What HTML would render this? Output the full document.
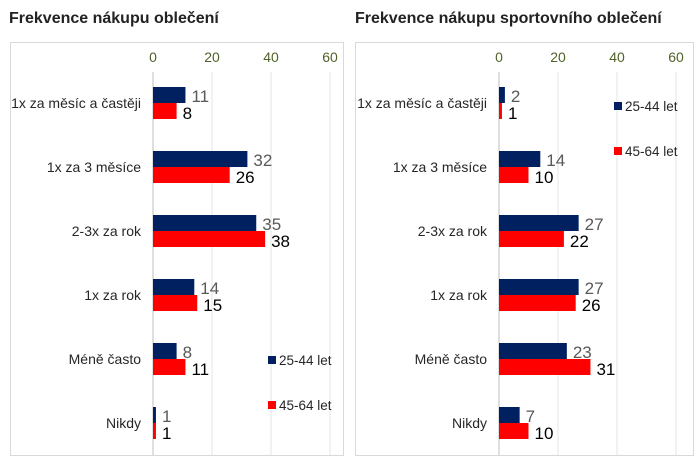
<!DOCTYPE html>
<html><head><meta charset="utf-8"><style>
body{margin:0;background:#fff;width:700px;height:463px;overflow:hidden;font-family:"Liberation Sans",sans-serif}
</style></head><body>
<svg id="s" width="700" height="463" xmlns="http://www.w3.org/2000/svg" font-family="Liberation Sans, sans-serif">
<text x="9" y="23" font-size="16" font-weight="bold" fill="#222">Frekvence nákupu oblečení</text>
<text x="355" y="23" font-size="16" font-weight="bold" fill="#222">Frekvence nákupu sportovního oblečení</text>
<rect x="10.5" y="42.5" width="333" height="413" fill="none" stroke="#d9d9d9"/>
<rect x="355.5" y="42.5" width="338" height="413" fill="none" stroke="#d9d9d9"/>
</svg>
<script>
const s=document.getElementById('s');const NS='http://www.w3.org/2000/svg';
function el(t,a,txt){const e=document.createElementNS(NS,t);for(const k in a)e.setAttribute(k,a[k]);if(txt!==undefined)e.textContent=txt;s.appendChild(e);}
const cats=["1x za měsíc a častěji","1x za 3 měsíce","2-3x za rok","1x za rok","Méně často","Nikdy"];
function chart(x0,lx,a,b,legx,legy){
 for(let i=0;i<4;i++){const x=x0+i*59;
  el('line',{x1:x,x2:x,y1:72,y2:455,stroke:i==0?'#bfbfbf':'#e6e6e6'});
  el('text',{x:x,y:62,'font-size':14,fill:'#4f6228','text-anchor':'middle'},String(i*20));}
 cats.forEach((c,i)=>{const cy=103+i*64;
  el('text',{x:lx,y:cy+5,'font-size':14,fill:'#262626','text-anchor':'end'},c);
  el('rect',{x:x0,y:cy-16,width:a[i]*2.95,height:16,fill:'#002060'});
  el('rect',{x:x0,y:cy,width:b[i]*2.95,height:16,fill:'#ff0000'});
  el('text',{x:x0+a[i]*2.95+6,y:cy-1,'font-size':17,fill:'#595959'},String(a[i]));
  el('text',{x:x0+b[i]*2.95+6,y:cy+16,'font-size':17,fill:'#000'},String(b[i]));
 });
 el('rect',{x:legx,y:legy[0]-10,width:8,height:8,fill:'#002060'});
 el('text',{x:legx+11,y:legy[0]-1,'font-size':13.5,fill:'#262626'},'25-44 let');
 el('rect',{x:legx,y:legy[1]-10,width:8,height:8,fill:'#ff0000'});
 el('text',{x:legx+11,y:legy[1]-1,'font-size':13.5,fill:'#262626'},'45-64 let');
}
chart(153,141,[11,32,35,14,8,1],[8,26,38,15,11,1],268,[366,411]);
chart(499,487,[2,14,27,27,23,7],[1,10,22,26,31,10],614,[112,157]);
</script>
</body></html>
